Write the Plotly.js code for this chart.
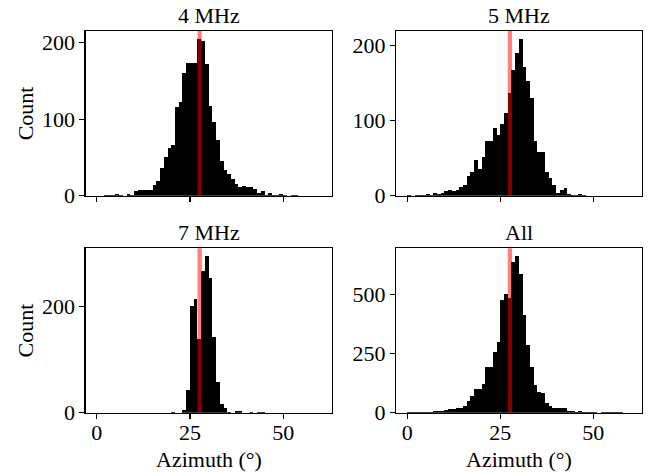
<!DOCTYPE html>
<html>
<head>
<meta charset="utf-8">
<script src="https://cdn.plot.ly/plotly-3.0.1.min.js"></script>
<style>html,body{margin:0;padding:0;background:#fff;}#chart{width:650px;height:472px;}</style>
</head>
<body>
<div id="chart"></div>
<script>
// Histogram counts per 1-degree azimuth bin (bins 0-1, 1-2, ..., 59-60)
const panelTitles = ["4 MHz", "5 MHz", "7 MHz", "All"];
const counts4MHz = [0,0,1,1,1,2,1,0,2,1,6,8,7,7,8,14,19,36,50,62,66,116,122,160,174,174,174,205,202,172,117,96,73,46,34,29,22,15,12,13,12,11,9,3,6,1,4,1,1,2,1,0,1,1,0,0,0,0,0,0];
const counts5MHz = [1,0,1,1,1,2,1,3,2,4,6,7,6,7,12,14,26,32,47,36,51,73,73,90,81,96,110,137,167,190,209,171,153,130,73,58,58,31,23,14,4,7,10,2,1,1,2,1,0,0,0,0,0,0,0,0,0,0,0,0];
const counts7MHz = [0,0,0,0,0,0,0,0,0,0,0,0,0,0,0,0,0,0,0,0,1,0,0,5,42,200,213,138,266,294,253,143,57,16,9,1,0,3,3,0,0,1,0,1,1,0,0,0,0,0,0,0,0,0,0,0,0,0,0,0];
const countsAll = [1,1,2,2,3,5,4,6,8,8,11,15,14,18,18,29,49,70,100,100,121,194,194,257,296,475,499,484,634,660,583,412,285,191,117,86,81,42,29,21,18,20,20,7,6,4,7,2,1,1,1,0,3,3,1,1,1,1,0,0];
const binWidth = 1;
const binStart = 0;
const xTicks = [0, 25, 50];
const yTicks = [[0,100,200],[0,100,200],[0,200],[0,250,500]];
const refAzimuth = 27.6;
const xLabel = "Azimuth (°)";
const yLabel = "Count";

const allCounts = [counts4MHz, counts5MHz, counts7MHz, countsAll];
const binCenters = counts4MHz.map((_, i) => binStart + binWidth * (i + 0.5));

const FONT = "Liberation Serif, Times New Roman, serif";
const FS = 22;

const W = 650, H = 472;
const xDom = [[85.5/W, 331.7/W], [396/W, 641.7/W]];
const yDom = [[1-195.7/H, 1-31/H], [1-412.7/H, 1-248.3/H]];

const traces = [];
const layout = {
  width: W, height: H,
  margin: {l:0, r:0, t:0, b:0},
  paper_bgcolor: "#fff", plot_bgcolor: "#fff",
  showlegend: false,
  bargap: 0,
  font: {family: FONT, size: FS, color: "#000"},
  shapes: [], annotations: []
};

allCounts.forEach((cnt, i) => {
  const n = i + 1;
  const xa = n === 1 ? "x" : "x" + n;
  const ya = n === 1 ? "y" : "y" + n;
  const col = i % 2, row = Math.floor(i / 2);
  traces.push({
    type: "bar", x: binCenters, y: cnt, width: binWidth,
    xaxis: xa, yaxis: ya,
    marker: {color: "#000", line: {width: 0}},
    hoverinfo: "skip"
  });
  const ymax = Math.max(...cnt) * 1.05;
  const xmin = binStart, xmax = binStart + binWidth * cnt.length;
  const pad = (xmax - xmin) * 0.05;
  layout["xaxis" + (n === 1 ? "" : n)] = {
    domain: xDom[col], anchor: ya, range: [xmin - pad, xmax + pad],
    tickvals: xTicks, ticktext: xTicks.map(String), showticklabels: row === 1,
    ticks: "outside", ticklen: 5, tickwidth: 1.1, tickcolor: "#000",
    ticklabelstandoff: -5,
    showline: true, mirror: true, linecolor: "#000", linewidth: 1.1,
    showgrid: false, zeroline: false,
    tickfont: {family: FONT, size: FS, color: "#000"}
  };
  layout["yaxis" + (n === 1 ? "" : n)] = {
    domain: yDom[row], anchor: xa, range: [0, ymax],
    tickvals: yTicks[i], ticktext: yTicks[i].map(String),
    ticks: "outside", ticklen: 5, tickwidth: 1.1, tickcolor: "#000",
    showline: true, mirror: true, linecolor: "#000", linewidth: 1.1,
    showgrid: false, zeroline: false,
    tickfont: {family: FONT, size: FS, color: "#000"}
  };
  layout.shapes.push({
    type: "line", xref: xa, yref: ya + " domain",
    x0: refAzimuth, x1: refAzimuth, y0: 0, y1: 1,
    line: {color: "rgba(255,0,0,0.5)", width: 4.3}, layer: "above"
  });
  layout.annotations.push({
    text: panelTitles[i], xref: xa + " domain", yref: ya + " domain",
    x: 0.5, y: 1, xanchor: "center", yanchor: "bottom", yshift: 1,
    showarrow: false, font: {family: FONT, size: FS, color: "#000"}
  });
  if (col === 0) {
    layout.annotations.push({
      text: yLabel, xref: "paper", yref: ya + " domain",
      x: 25/W, y: 0.5, xanchor: "center", yanchor: "middle", textangle: -90,
      showarrow: false, font: {family: FONT, size: FS, color: "#000"}
    });
  }
  if (row === 1) {
    layout.annotations.push({
      text: xLabel, xref: xa + " domain", yref: "paper",
      x: 0.5, y: 1 - 459/H, xanchor: "center", yanchor: "middle",
      showarrow: false, font: {family: FONT, size: FS, color: "#000"}
    });
  }
});

Plotly.newPlot("chart", traces, layout, {staticPlot: true, displayModeBar: false});
</script>
</body>
</html>
